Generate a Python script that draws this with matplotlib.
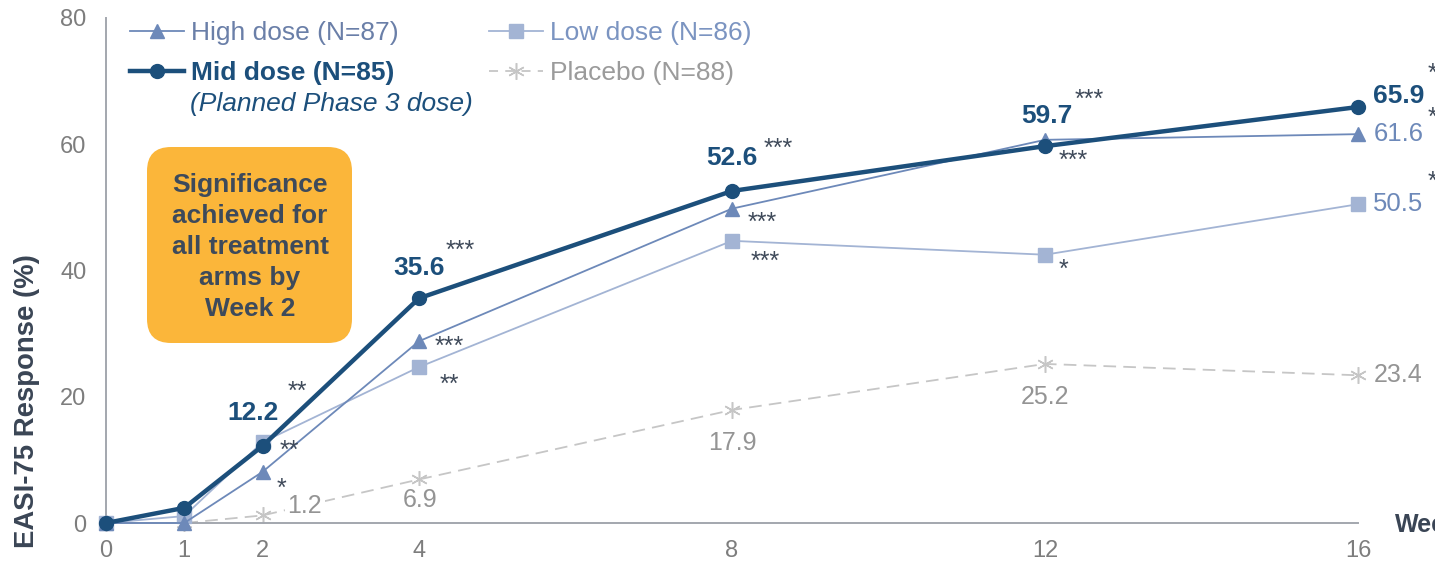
import matplotlib.pyplot as plt
from matplotlib.lines import Line2D
from matplotlib.patches import FancyBboxPatch
from matplotlib.transforms import IdentityTransform, Bbox

plt.rcParams['font.family'] = ['Liberation Sans', 'DejaVu Sans']

weeks = [0, 1, 2, 4, 8, 12, 16]
high_dose = [0, 0, 8.1, 28.8, 49.8, 60.7, 61.6]
mid_dose = [0, 2.4, 12.2, 35.6, 52.6, 59.7, 65.9]
low_dose = [0, 1.1, 12.8, 24.7, 44.7, 42.5, 50.5]
placebo = [0, 0, 1.2, 6.9, 17.9, 25.2, 23.4]

# significance stars: (series, week index, stars, dx, dy) offsets in points
stars = [
    ('mid', 2, '**', 25, 39), ('low', 2, '**', 19, -6), ('high', 2, '*', 14, -12),
    ('mid', 3, '***', 30, 34), ('high', 3, '***', 22, -4), ('low', 3, '**', 22, -13),
    ('mid', 4, '***', 33, 30), ('high', 4, '***', 22, -10), ('low', 4, '***', 24, -15),
    ('mid', 5, '***', 32, 33), ('high', 5, '***', 20, -15), ('low', 5, '*', 13, -11),
]
# week 16 stars run off the right edge
end_stars = [('mid', '***', 50, 24), ('high', '***', 50, 12), ('low', '***', 50, 16)]

C_MID = '#1c4f7b'
C_HIGH = '#6d89b9'
C_LOW = '#a3b4d4'
C_PBO = '#c6c6c6'
C_PBO_TXT = '#949494'
C_STAR = '#3f4a5a'
C_AXIS = '#a3a7ae'

fig = plt.figure(figsize=(14.44, 5.68), dpi=100)
ax = fig.add_axes([106 / 1444, 45 / 568, 1252 / 1444, 505 / 568])
edge = Bbox([[0, 0], [1435, 568]])

ax.plot(weeks, placebo, color=C_PBO, lw=1.3, ls=(0, (7, 4)), marker=(6, 2, 0),
        ms=12, mew=1.1, clip_on=False, zorder=2)
ax.plot(weeks, low_dose, color=C_LOW, lw=1.3, marker='s', ms=10.5, clip_on=False, zorder=3)
ax.plot(weeks, high_dose, color=C_HIGH, lw=1.3, marker='^', ms=10.5, clip_on=False, zorder=4)
ax.plot(weeks, mid_dose, color=C_MID, lw=3.2, marker='o', ms=10, clip_on=False, zorder=5)

ax.set_xlim(0, 16)
ax.set_ylim(0, 80)
ax.set_xticks(weeks)
ax.set_yticks([0, 20, 40, 60, 80])
ax.tick_params(length=0, labelsize=17, labelcolor='#7d7d7d')
ax.tick_params(axis='y', pad=14)
ax.tick_params(axis='x', pad=12)
for side in ['top', 'right']:
    ax.spines[side].set_visible(False)
for side in ['left', 'bottom']:
    ax.spines[side].set_color(C_AXIS)
    ax.spines[side].set_linewidth(1.4)

fig.text(27 / 1444, 1 - 401 / 568, 'EASI-75 Response (%)', rotation=90,
         ha='center', va='center', fontsize=19.8, fontweight='bold', color='#3a4555')
wk = fig.text(1395 / 1444, 1 - 525 / 568, 'Week', ha='left', va='center',
              fontsize=18, fontweight='bold', color='#3a4555')
wk.set_clip_box(edge)

# value labels
mid_off = {2: (-7, 24), 3: (0, 22), 4: (0, 24), 5: (1, 22)}
for i, (dx, dy) in mid_off.items():
    ax.annotate(f'{mid_dose[i]:.1f}', (weeks[i], mid_dose[i]), xytext=(dx, dy),
                textcoords='offset points', ha='center', va='center', fontsize=19,
                fontweight='bold', color=C_MID, zorder=6,
                bbox=dict(boxstyle='square,pad=0.05', fc='white', ec='none'))
ax.annotate(f'{mid_dose[6]:.1f}', (weeks[6], mid_dose[6]), xytext=(11, 8),
            textcoords='offset points', ha='left', va='center', fontsize=19,
            fontweight='bold', color=C_MID, annotation_clip=False)
ax.annotate(f'{high_dose[6]:.1f}', (weeks[6], high_dose[6]), xytext=(11, 0),
            textcoords='offset points', ha='left', va='center', fontsize=18.5,
            color=C_HIGH, annotation_clip=False)
ax.annotate(f'{low_dose[6]:.1f}', (weeks[6], low_dose[6]), xytext=(11, 0),
            textcoords='offset points', ha='left', va='center', fontsize=18.5,
            color=C_HIGH, annotation_clip=False)

pbo_off = {2: (18, 7, 'left'), 3: (1, -15, 'center'), 4: (0, -24, 'center'),
           5: (0, -24, 'center'), 6: (11, 0, 'left')}
for i, (dx, dy, ha) in pbo_off.items():
    ax.annotate(f'{placebo[i]:.1f}', (weeks[i], placebo[i]), xytext=(dx, dy),
                textcoords='offset points', ha=ha, va='center', fontsize=18,
                color=C_PBO_TXT, annotation_clip=False,
                bbox=dict(boxstyle='square,pad=0.1', fc='white', ec='none'))

series = {'mid': mid_dose, 'high': high_dose, 'low': low_dose}
for name, i, s, dx, dy in stars:
    ax.annotate(s, (weeks[i], series[name][i]), xytext=(dx, dy),
                textcoords='offset points', ha='center', va='center',
                fontsize=18, color=C_STAR, annotation_clip=False, zorder=6)
for name, s, dx, dy in end_stars:
    t = ax.annotate(s, (weeks[6], series[name][6]), xytext=(dx, dy),
                    textcoords='offset points', ha='left', va='center',
                    fontsize=18, color=C_STAR, annotation_clip=False, zorder=6)
    t.set_clip_box(edge)

# legend
handles = [
    Line2D([], [], color=C_HIGH, lw=1.3, marker='^', ms=10.5),
    Line2D([], [], color=C_MID, lw=3.2, marker='o', ms=10),
    Line2D([], [], color=C_LOW, lw=1.3, marker='s', ms=10.5),
    Line2D([], [], color=C_PBO, lw=1.3, ls=(0, (5, 4)), marker=(6, 2, 0), ms=12, mew=1.1),
]
labels = ['High dose (N=87)', 'Mid dose (N=85)', 'Low dose (N=86)', 'Placebo (N=88)']
leg = fig.legend(handles, labels, ncol=2, loc='upper left',
                 bbox_to_anchor=(130 / 1444, 1 - 21 / 568), frameon=False,
                 fontsize=19, handlelength=2.05, handletextpad=0.25,
                 labelspacing=0.62, columnspacing=3.45, borderpad=0, borderaxespad=0)
txt_colors = ['#6a7fa8', C_MID, '#7b94c1', '#9b9b9b']
for t, c in zip(leg.get_texts(), txt_colors):
    t.set_color(c)
leg.get_texts()[1].set_fontweight('bold')
fig.text(190 / 1444, 1 - 104 / 568, '(Planned Phase 3 dose)', ha='left', va='center',
         fontsize=19, style='italic', color=C_MID)

# callout box
box = FancyBboxPatch((147, 568 - 343), 205, 196, boxstyle='round,pad=0,rounding_size=24',
                     transform=IdentityTransform(), fc='#fbb63a', ec='none')
fig.add_artist(box)
fig.text(250 / 1444, 1 - 247 / 568,
         'Significance\nachieved for\nall treatment\narms by\nWeek 2',
         ha='center', va='center', fontsize=19, fontweight='bold',
         color='#3d4a5b', linespacing=1.36)

fig.savefig('out.png', dpi=100)
